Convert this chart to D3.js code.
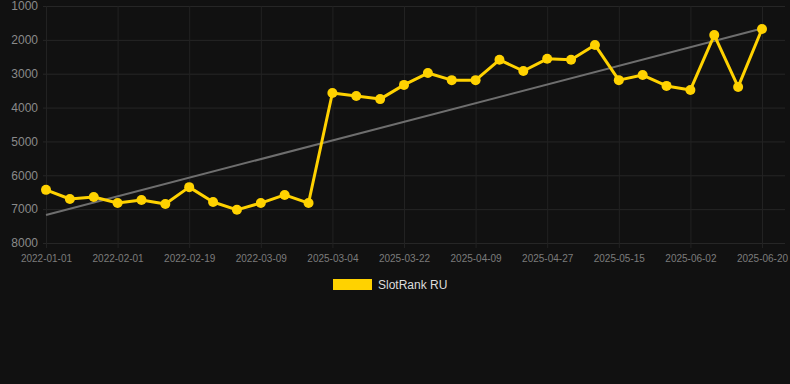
<!DOCTYPE html>
<html>
<head>
<meta charset="utf-8">
<script src="https://cdn.jsdelivr.net/npm/d3@7"></script>
<style>
  html, body { margin: 0; padding: 0; background: #111111; }
  svg { display: block; font-family: "Liberation Sans", Arial, sans-serif; }
</style>
</head>
<body>
<div id="chart"></div>
<script>
// data
var dates = ["2022-01-01", "2022-01-11", "2022-01-21", "2022-02-01", "2022-02-07", "2022-02-13",
    "2022-02-19", "2022-02-25", "2022-03-03", "2022-03-09", "2022-03-15", "2022-03-21",
    "2025-03-04", "2025-03-10", "2025-03-16", "2025-03-22", "2025-03-28", "2025-04-03",
    "2025-04-09", "2025-04-15", "2025-04-21", "2025-04-27", "2025-05-03", "2025-05-09",
    "2025-05-15", "2025-05-21", "2025-05-27", "2025-06-02", "2025-06-08", "2025-06-14",
    "2025-06-20"];
var ranks = [6430, 6700, 6640, 6820, 6730, 6850, 6350, 6790, 7020, 6820, 6580, 6820,
    3570, 3660, 3750, 3330, 2980, 3190, 3190, 2590, 2920, 2560, 2590, 2150,
    3190, 3040, 3360, 3480, 1860, 3390, 1680];
var yTicks = [1000, 2000, 3000, 4000, 5000, 6000, 7000, 8000];
var seriesName = "SlotRank RU";

// setup
var width = 790,
    height = 384;
var plotLeft = 43, plotRight = 785, plotTop = 6, plotBottom = 243;

var svg = d3.select("#chart").append("svg")
    .attr("width", width)
    .attr("height", height);

svg.append("rect")
    .attr("width", width)
    .attr("height", height)
    .attr("fill", "#111111");

var xScale = d3.scalePoint()
    .domain(dates)
    .range([46, 762]);

var yScale = d3.scaleLinear()
    .domain([1000, 8000])
    .range([plotTop, plotBottom]);

var tickDates = dates.filter(function (d, i) { return i % 3 == 0; });

// y grid + labels
var yAxis = svg.append("g")
    .attr("transform", "translate(" + plotLeft + ",0)")
    .call(d3.axisLeft(yScale).tickValues(yTicks).tickFormat(d3.format("d"))
        .tickSize(0).tickPadding(5));
yAxis.select(".domain").remove();
yAxis.selectAll(".tick line")
    .attr("x2", plotRight - plotLeft)
    .attr("stroke", "#262626");
yAxis.selectAll("text")
    .attr("fill", "#8a8a8a")
    .style("font-size", "12px");

// x grid + labels
var xAxis = svg.append("g")
    .attr("transform", "translate(0," + plotBottom + ")")
    .call(d3.axisBottom(xScale).tickValues(tickDates).tickSize(5).tickPadding(7));
xAxis.select(".domain").remove();
xAxis.selectAll(".tick line")
    .attr("y1", plotTop - plotBottom)
    .attr("stroke", "#222222");
xAxis.selectAll("text")
    .attr("fill", "#7c7c7c")
    .style("font-size", "10px");

// trend line (least squares)
var n = ranks.length;
var mx = d3.mean(ranks, function (d, i) { return i; });
var my = d3.mean(ranks);
var sxy = d3.sum(ranks, function (d, i) { return (i - mx) * (d - my); });
var sxx = d3.sum(ranks, function (d, i) { return (i - mx) * (i - mx); });
var slope = sxy / sxx;
var trend = [my - slope * mx, my + slope * (n - 1 - mx)];

svg.append("line")
    .attr("x1", xScale(dates[0]))
    .attr("y1", yScale(trend[0]))
    .attr("x2", xScale(dates[n - 1]))
    .attr("y2", yScale(trend[1]))
    .attr("stroke", "#6e6e6e")
    .attr("stroke-width", 2);

// series line
var line = d3.line()
    .x(function (d, i) { return xScale(dates[i]); })
    .y(function (d) { return yScale(d); });

svg.append("path")
    .attr("d", line(ranks))
    .attr("fill", "none")
    .attr("stroke", "#ffd200")
    .attr("stroke-width", 3)
    .attr("stroke-linejoin", "round");

svg.selectAll(".dot")
    .data(ranks)
    .enter().append("circle")
    .attr("class", "dot")
    .attr("cx", function (d, i) { return xScale(dates[i]); })
    .attr("cy", function (d) { return yScale(d); })
    .attr("r", 5)
    .attr("fill", "#ffd200");

// legend
svg.append("rect")
    .attr("x", 333)
    .attr("y", 279)
    .attr("width", 39)
    .attr("height", 11)
    .attr("fill", "#ffd200");

svg.append("text")
    .attr("x", 378)
    .attr("y", 289)
    .attr("fill", "#dddddd")
    .style("font-size", "12px")
    .text(seriesName);
</script>
</body>
</html>
